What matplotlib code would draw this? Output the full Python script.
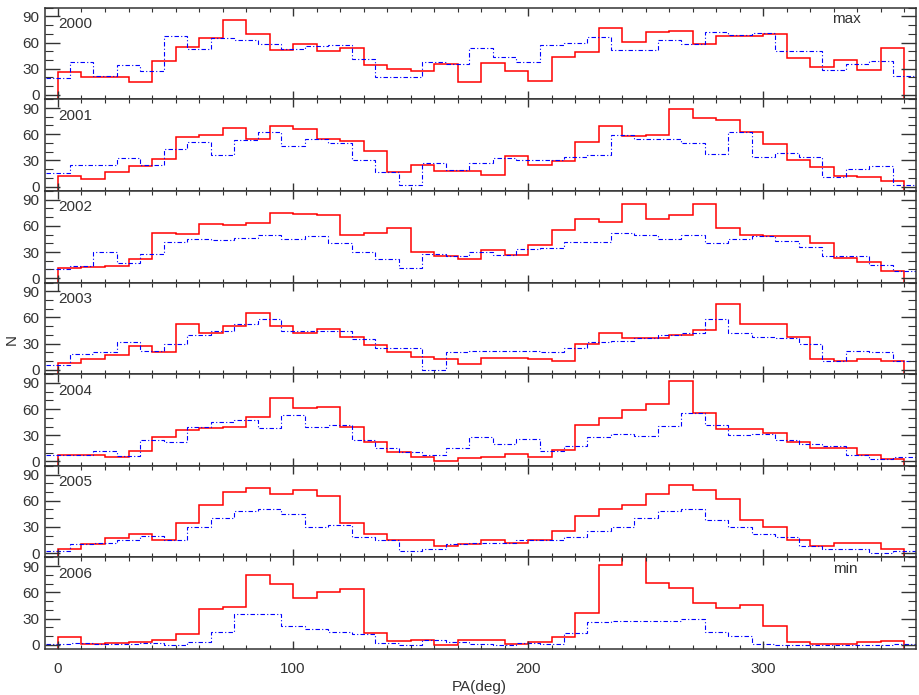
import numpy as np
import matplotlib
matplotlib.use('Agg')
import matplotlib.pyplot as plt
from matplotlib.ticker import MultipleLocator

plt.rcParams['font.family'] = ['Liberation Sans', 'DejaVu Sans']

# position angle bins: red histogram edges at 0,10,...,360; blue centred on 0,10,...,360
red_edges = np.arange(0, 361, 10)
blue_edges = np.arange(-5, 366, 10)

years = ['2000', '2001', '2002', '2003', '2004', '2005', '2006']

red_2000 = [26, 20, 21, 15, 39, 55, 65, 86, 70, 52, 58, 50, 54, 34, 30, 27, 36, 15,
            37, 27, 16, 44, 49, 77, 61, 72, 73, 58, 68, 68, 70, 42, 32, 40, 29, 54]
blue_2000 = [19, 38, 22, 34, 27, 67, 53, 65, 63, 58, 53, 56, 57, 41, 20, 20, 38, 35, 54,
             44, 38, 57, 60, 66, 52, 52, 63, 58, 72, 69, 71, 50, 50, 28, 36, 39, 22]

red_2001 = [12, 9, 17, 24, 32, 57, 59, 67, 54, 69, 66, 55, 52, 41, 17, 25, 18, 18,
            13, 35, 25, 29, 51, 69, 58, 59, 89, 78, 76, 63, 49, 31, 22, 12, 11, 6]
blue_2001 = [15, 25, 25, 33, 25, 43, 51, 36, 53, 62, 46, 54, 50, 30, 17, 2, 27, 19, 27,
             33, 30, 31, 34, 36, 59, 55, 55, 50, 37, 62, 34, 38, 34, 11, 20, 24, 2]

red_2002 = [12, 13, 14, 22, 52, 51, 62, 61, 63, 75, 73, 72, 50, 52, 57, 30, 25, 22,
            32, 27, 38, 55, 68, 64, 85, 68, 72, 85, 57, 50, 48, 48, 40, 23, 18, 8]
blue_2002 = [10, 14, 30, 17, 28, 42, 45, 44, 46, 50, 45, 48, 40, 30, 22, 12, 28, 25, 30,
             27, 33, 35, 42, 42, 52, 50, 45, 50, 40, 45, 48, 43, 36, 25, 25, 15, 8]

red_2003 = [8, 12, 17, 27, 20, 52, 42, 50, 65, 50, 42, 47, 38, 28, 20, 15, 12, 7,
            14, 14, 12, 10, 30, 42, 36, 36, 40, 46, 75, 52, 52, 38, 12, 10, 12, 10]
blue_2003 = [5, 18, 20, 32, 22, 30, 40, 45, 52, 58, 45, 45, 45, 35, 25, 25, 0, 20, 22,
             22, 22, 20, 25, 32, 33, 36, 40, 42, 58, 42, 38, 36, 30, 10, 22, 20, 10]

red_2004 = [7, 8, 5, 12, 28, 36, 38, 39, 51, 73, 61, 62, 40, 22, 11, 5, 1, 4,
            5, 9, 5, 13, 42, 50, 59, 66, 92, 55, 37, 37, 33, 22, 15, 15, 8, 3]
blue_2004 = [8, 8, 12, 6, 25, 22, 40, 45, 48, 38, 53, 39, 42, 25, 15, 11, 8, 16, 28,
             20, 26, 12, 18, 28, 31, 29, 41, 56, 42, 30, 32, 25, 20, 18, 8, 3, 5]

red_2005 = [5, 10, 17, 22, 15, 35, 55, 70, 75, 68, 72, 65, 35, 22, 15, 15, 8, 10,
            15, 12, 15, 25, 42, 50, 55, 68, 78, 72, 62, 38, 30, 15, 8, 12, 12, 5]
blue_2005 = [3, 10, 12, 15, 20, 15, 30, 40, 48, 50, 45, 30, 32, 18, 15, 3, 5, 10, 12,
             12, 15, 15, 18, 25, 30, 40, 48, 50, 38, 30, 22, 18, 8, 5, 5, 0, 3]

red_2006 = [9, 1, 2, 3, 6, 12, 41, 43, 80, 70, 54, 60, 64, 14, 4, 6, 0, 5,
            5, 1, 3, 9, 36, 91, 105, 71, 65, 48, 42, 46, 21, 3, 1, 1, 3, 4]
blue_2006 = [1, 2, 1, 1, 2, 0, 3, 15, 35, 35, 22, 18, 15, 12, 2, 0, 5, 3, 1,
             0, 2, 1, 14, 26, 27, 27, 27, 30, 15, 10, 1, 0, 0, 0, 0, 0, 1]

red_all = [red_2000, red_2001, red_2002, red_2003, red_2004, red_2005, red_2006]
blue_all = [blue_2000, blue_2001, blue_2002, blue_2003, blue_2004, blue_2005, blue_2006]

ymin, ymax = -5, 100
txt = '#333333'

fig, axes = plt.subplots(7, 1, sharex=True, figsize=(9.19, 6.95), dpi=100)
plt.subplots_adjust(left=0.049, right=0.997, top=0.989, bottom=0.066, hspace=0)

for i, ax in enumerate(axes):
    ax.stairs(red_all[i], red_edges, baseline=ymin, color='red', lw=1.1)
    ax.stairs(blue_all[i], blue_edges, baseline=None, color='blue', lw=0.8,
              linestyle=(0, (4, 2, 1, 2)))
    ax.set_xlim(-5.5, 365)
    ax.set_ylim(ymin, ymax)
    ax.set_yticks([0, 30, 60, 90])
    ax.yaxis.set_minor_locator(MultipleLocator(10))
    ax.xaxis.set_major_locator(MultipleLocator(100))
    ax.xaxis.set_minor_locator(MultipleLocator(10))
    ax.tick_params(axis='y', which='both', direction='in', left=True, right=True,
                   labelsize=11, pad=4, colors=txt)
    ax.tick_params(axis='y', which='major', length=11, width=1)
    ax.tick_params(axis='y', which='minor', length=6, width=0.8)
    ax.tick_params(axis='x', which='both', direction='in', top=True, bottom=True,
                   labelsize=11, pad=9, colors=txt)
    ax.tick_params(axis='x', which='major', length=6, width=1)
    ax.tick_params(axis='x', which='minor', length=3, width=0.8)
    for s in ax.spines.values():
        s.set_color('#333333')
        s.set_linewidth(1.1)
    ax.text(0.015, 0.82, years[i], transform=ax.transAxes, fontsize=11,
            va='center', ha='left', color=txt)

axes[0].text(0.92, 0.875, 'max', transform=axes[0].transAxes, fontsize=11,
             va='center', ha='center', color=txt)
axes[-1].text(0.918, 0.877, 'min', transform=axes[-1].transAxes, fontsize=11,
              va='center', ha='center', color=txt)

fig.text(0.013, 0.511, 'N', fontsize=11, rotation=90, va='center', ha='center',
         color=txt)
fig.text(0.522, 0.012, 'PA(deg)', fontsize=11, va='center', ha='center',
         color=txt)

plt.savefig('out.png', dpi=100)
